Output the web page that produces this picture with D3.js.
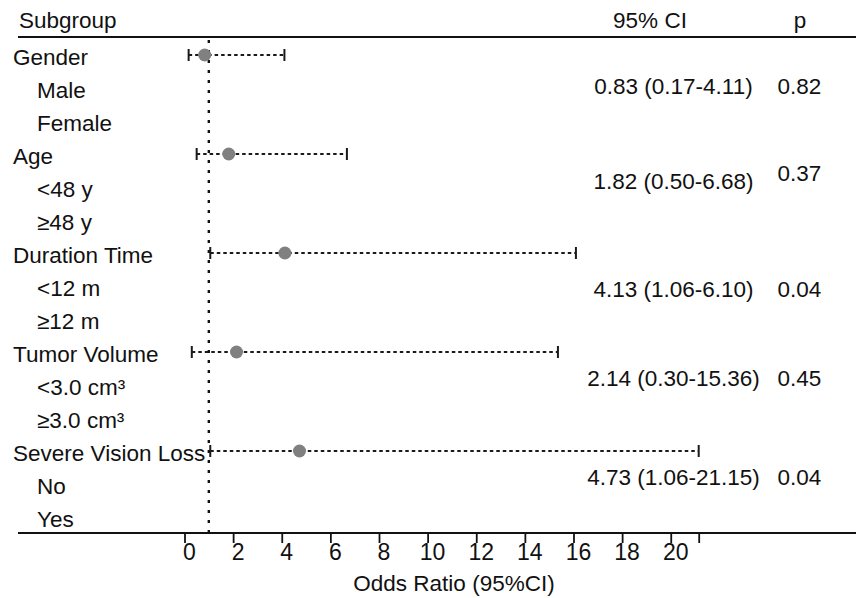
<!DOCTYPE html>
<html>
<head>
<meta charset="utf-8">
<script src="https://cdn.jsdelivr.net/npm/d3@7"></script>
<style>
  body { margin: 0; background: #fff; }
  svg text { font-family: "Liberation Sans", Arial, sans-serif; fill: #111; }
</style>
</head>
<body>
<svg id="forest" width="856" height="598"></svg>
<script>
// Data
const groups = ["Gender", "Age", "Duration Time", "Tumor Volume", "Severe Vision Loss"];
const subgroups = [["Male", "Female"], ["<48 y", "≥48 y"], ["<12 m", "≥12 m"], ["<3.0 cm³", "≥3.0 cm³"], ["No", "Yes"]];
const oddsRatio = [0.83, 1.82, 4.13, 2.14, 4.73];
const ciLow = [0.17, 0.50, 1.06, 0.30, 1.06];
const ciHigh = [4.11, 6.68, 16.10, 15.36, 21.15];
const ciText = ["0.83 (0.17-4.11)", "1.82 (0.50-6.68)", "4.13 (1.06-6.10)", "2.14 (0.30-15.36)", "4.73 (1.06-21.15)"];
const pValues = ["0.82", "0.37", "0.04", "0.45", "0.04"];
const xTicks = [0, 2, 4, 6, 8, 10, 12, 14, 16, 18, 20];
const refValue = 1;

// small vertical nudges of the right hand columns, as in the figure
const ciNudge = [-4, -8, 1, -9, -9];
const pNudge = [-4, -16, 1, -9, -9];

const svg = d3.select("#forest");
const width = 856;
const lineLeft = 18;
const topLine = 37;
const axisY = 533;
const fontSize = 22.5;

// one row per label
const rows = [];
groups.forEach((g, i) => {
  rows.push({ label: g, group: true, idx: i });
  subgroups[i].forEach(s => rows.push({ label: s, group: false, idx: i }));
});

const y = d3.scalePoint()
  .domain(d3.range(rows.length))
  .range([57, 519]);

const x = d3.scaleLinear()
  .domain([0, d3.max(ciHigh)])
  .range([184.5, 698.7]);

// header
svg.append("text").attr("x", 19).attr("y", 28).attr("font-size", fontSize).text("Subgroup");
svg.append("text").attr("x", 650).attr("y", 28).attr("font-size", fontSize).attr("text-anchor", "middle").text("95% CI");
svg.append("text").attr("x", 800).attr("y", 28).attr("font-size", fontSize).attr("text-anchor", "middle").text("p");

svg.append("line")
  .attr("x1", lineLeft).attr("x2", width)
  .attr("y1", topLine).attr("y2", topLine)
  .attr("stroke", "#111").attr("stroke-width", 2);

// row labels
svg.append("g")
  .selectAll("text")
  .data(rows)
  .join("text")
  .attr("x", d => d.group ? 13 : 37)
  .attr("y", (d, i) => y(i) + 8)
  .attr("font-size", fontSize)
  .text(d => d.label);

// reference line at OR = 1
svg.append("line")
  .attr("x1", x(refValue)).attr("x2", x(refValue))
  .attr("y1", topLine + 3).attr("y2", axisY)
  .attr("stroke", "#111")
  .attr("stroke-width", 2.4)
  .attr("stroke-dasharray", "3,7");

// confidence intervals
const groupRows = rows.map((r, i) => ({ ...r, row: i })).filter(r => r.group);

const ci = svg.append("g")
  .selectAll("g")
  .data(groupRows)
  .join("g")
  .attr("transform", d => `translate(0,${y(d.row) - 2})`);

ci.append("line")
  .attr("x1", d => x(ciLow[d.idx]))
  .attr("x2", d => x(ciHigh[d.idx]))
  .attr("stroke", "#1a1a1a")
  .attr("stroke-width", 1.8)
  .attr("stroke-dasharray", "3.5,3");

ci.selectAll(".cap")
  .data(d => [ciLow[d.idx], ciHigh[d.idx]])
  .join("line")
  .attr("class", "cap")
  .attr("x1", d => x(d)).attr("x2", d => x(d))
  .attr("y1", -6).attr("y2", 6)
  .attr("stroke", "#1a1a1a")
  .attr("stroke-width", 2);

ci.append("circle")
  .attr("cx", d => x(oddsRatio[d.idx]))
  .attr("r", 6.5)
  .attr("fill", "#808080");

// CI and p columns
svg.append("g")
  .selectAll("text")
  .data(groupRows)
  .join("text")
  .attr("x", 673.5)
  .attr("y", d => y(d.row + 1) + 8 + ciNudge[d.idx])
  .attr("text-anchor", "middle")
  .attr("font-size", fontSize)
  .text(d => ciText[d.idx]);

svg.append("g")
  .selectAll("text")
  .data(groupRows)
  .join("text")
  .attr("x", 799.5)
  .attr("y", d => y(d.row + 1) + 8 + pNudge[d.idx])
  .attr("text-anchor", "middle")
  .attr("font-size", fontSize)
  .text(d => pValues[d.idx]);

// x axis
svg.append("line")
  .attr("x1", lineLeft).attr("x2", width)
  .attr("y1", axisY).attr("y2", axisY)
  .attr("stroke", "#111").attr("stroke-width", 2);

const axis = svg.append("g")
  .attr("transform", `translate(0,${axisY})`)
  .call(d3.axisBottom(x)
    .tickValues([...xTicks, d3.max(ciHigh)])
    .tickFormat(d => xTicks.includes(d) ? d : "")
    .tickSize(10)
    .tickSizeOuter(0));

axis.select(".domain").remove();
axis.selectAll(".tick line").attr("stroke", "#111").attr("stroke-width", 1.8);
axis.selectAll(".tick text")
  .attr("y", 27)
  .attr("dy", 0)
  .attr("dx", 4.5)
  .attr("font-size", 23)
  .attr("font-family", "Liberation Sans, Arial, sans-serif")
  .attr("fill", "#111");

svg.append("text")
  .attr("x", 454)
  .attr("y", 591)
  .attr("text-anchor", "middle")
  .attr("font-size", fontSize)
  .text("Odds Ratio (95%CI)");
</script>
</body>
</html>
